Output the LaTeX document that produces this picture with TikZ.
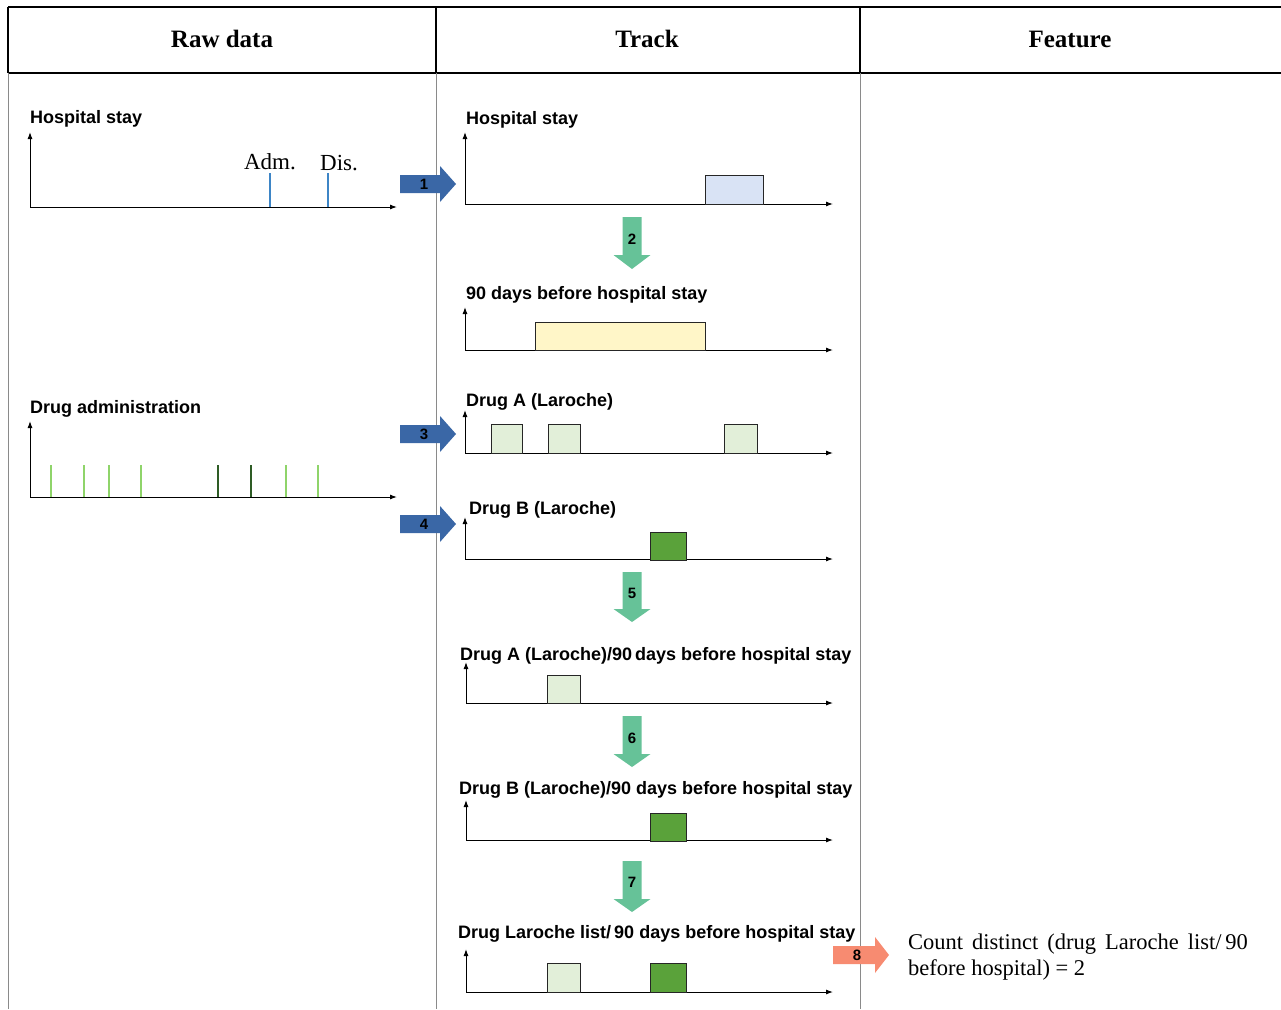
\documentclass[tikz,border=0pt]{standalone}
\usepackage{fontspec}
\setmainfont{Liberation Serif}
\setsansfont{Liberation Sans}
\usetikzlibrary{arrows.meta}
\definecolor{blueA}{HTML}{3A67A6}
\definecolor{greenA}{HTML}{66C298}
\definecolor{salmonA}{HTML}{F78B71}
\definecolor{tickBlue}{HTML}{3D85C6}
\definecolor{tickLight}{HTML}{8FD46A}
\definecolor{tickDark}{HTML}{2E5C25}
\definecolor{boxBlue}{HTML}{D9E3F5}
\definecolor{boxYellow}{HTML}{FFF6C8}
\definecolor{boxLight}{HTML}{E2EFD9}
\definecolor{boxDark}{HTML}{5AA23A}
\definecolor{rule}{HTML}{8A8A8A}
\tikzset{
  hdr/.style={font=\fontsize{25}{29}\selectfont\bfseries},
  lbl/.style={font=\sffamily\bfseries\fontsize{18}{21}\selectfont, anchor=west, inner sep=0pt},
  axis/.style={line width=1pt, -{Latex[length=7pt,width=5pt]}},
  tickb/.style={tickBlue, line width=2.6pt},
  tickl/.style={tickLight, line width=2.6pt},
  tickd/.style={tickDark, line width=2.6pt},
  evbox/.style={draw=black!85, line width=1pt},
  numlbl/.style={font=\sffamily\bfseries\fontsize{15}{17}\selectfont, inner sep=0pt},
}
% right block arrow: #1 tail x, #2 head x, #3 tip x, #4 center y, #5 colour
\newcommand{\blkRight}[5]{\fill[#5] (#1,#4-9) -- (#2,#4-9) -- (#2,#4-18) -- (#3,#4) -- (#2,#4+18) -- (#2,#4+9) -- (#1,#4+9) -- cycle;}
% down block arrow: #1 top y, #2 head y, #3 tip y, #4 center x
\newcommand{\blkDown}[4]{\fill[greenA] (#4-9.5,#1) -- (#4+9.5,#1) -- (#4+9.5,#2) -- (#4+18.5,#2) -- (#4,#3) -- (#4-18.5,#2) -- (#4-9.5,#2) -- cycle;}
\newcommand{\wideSp}{\spaceskip=0.4em\relax}
\begin{document}
\begin{tikzpicture}[x=1pt,y=-1pt]
\useasboundingbox (0,0) rectangle (1281,1009);
% table
\draw[line width=1.4pt] (8,7) -- (1281,7);
\draw[line width=1.4pt] (8,73) -- (1281,73);
\draw[line width=1.4pt] (8,7) -- (8,73);
\draw[line width=1.4pt] (436,7) -- (436,73);
\draw[line width=1.4pt] (860,7) -- (860,73);
\draw[rule, line width=0.8pt] (8,73) -- (8,1009);
\draw[rule, line width=0.8pt] (436,73) -- (436,1009);
\draw[rule, line width=0.8pt] (860,73) -- (860,1009);
\node[hdr] (h1) at (222,39) {Raw data};
\node[hdr] (h2) at (647,39) {Track};
\node[hdr] (h3) at (1070,39) {Feature};

% ---- Raw data: hospital stay
\node[lbl] (rhs) at (30,119) {Hospital stay};
\coordinate (o1) at (30,207);
\draw[axis] (o1) -- (30,132);
\draw[axis] (o1) -- (397,207);
\draw[tickb] (270,173) -- (270,207);
\draw[tickb] (328,173) -- (328,207);
\node[font=\fontsize{23}{26}\selectfont] (adm) at (270,162) {Adm.};
\node[font=\fontsize{23}{26}\selectfont] (dis) at (339,163) {Dis.};

% ---- Raw data: drug administration
\node[lbl] (rda) at (30,409) {Drug administration};
\coordinate (o2) at (30,497);
\draw[axis] (o2) -- (30,421);
\draw[axis] (o2) -- (397,497);
\foreach \x in {51,84,109,141,286,318} \draw[tickl] (\x,465) -- (\x,497);
\foreach \x in {218,251} \draw[tickd] (\x,465) -- (\x,497);

% ---- blue arrows
\blkRight{400}{440}{456}{184}{blueA}
\node[numlbl] (n1) at (424,184) {1};
\blkRight{400}{440}{456}{434}{blueA}
\node[numlbl] (n3) at (424,434) {3};
\blkRight{400}{440}{456}{524}{blueA}
\node[numlbl] (n4) at (424,524) {4};

% ---- Track: hospital stay
\node[lbl] (ths) at (466,120) {Hospital stay};
\draw[axis] (465,204) -- (465,132);
\draw[axis] (465,204) -- (833,204);
\draw[evbox, fill=boxBlue] (705,175) rectangle (763,204);
\blkDown{217}{255}{269}{632}
\node[numlbl] (n2) at (632,239) {2};

% ---- 90 days before
\node[lbl] (t90) at (466,295) {90 days before hospital stay};
\draw[axis] (465,350) -- (465,307);
\draw[axis] (465,350) -- (833,350);
\draw[evbox, fill=boxYellow] (535,322) rectangle (705,350);

% ---- Drug A
\node[lbl] (tda) at (466,402) {Drug A (Laroche)};
\draw[axis] (465,453) -- (465,410);
\draw[axis] (465,453) -- (833,453);
\draw[evbox, fill=boxLight] (491,424) rectangle (522,453);
\draw[evbox, fill=boxLight] (548,424) rectangle (580,453);
\draw[evbox, fill=boxLight] (724,424) rectangle (757,453);

% ---- Drug B
\node[lbl] (tdb) at (469,510) {Drug B (Laroche)};
\draw[axis] (465,559) -- (465,517);
\draw[axis] (465,559) -- (833,559);
\draw[evbox, fill=boxDark] (650,532) rectangle (686,560);
\blkDown{572}{609}{622}{632}
\node[numlbl] (n5) at (632,593) {5};

% ---- Drug A / 90 days
\node[lbl] (tda90) at (460,656) {Drug A (Laroche)/90\,days before hospital stay};
\draw[axis] (466,703) -- (466,662);
\draw[axis] (466,703) -- (833,703);
\draw[evbox, fill=boxLight] (547,675) rectangle (580,703);
\blkDown{716}{754}{767}{632}
\node[numlbl] (n6) at (632,738) {6};

% ---- Drug B / 90 days
\node[lbl] (tdb90) at (459,790) {Drug B (Laroche)/90 days before hospital stay};
\draw[axis] (466,840) -- (466,800);
\draw[axis] (466,840) -- (833,840);
\draw[evbox, fill=boxDark] (650,813) rectangle (686,841);
\blkDown{861}{899}{912}{632}
\node[numlbl] (n7) at (632,882) {7};

% ---- Drug Laroche list / 90 days
\node[lbl] (tdl) at (458,934) {Drug Laroche list/\,90 days before hospital stay};
\draw[axis] (466,992) -- (466,949);
\draw[axis] (466,992) -- (833,992);
\draw[evbox, fill=boxLight] (547,963) rectangle (580,992);
\draw[evbox, fill=boxDark] (650,963) rectangle (686,992);

% ---- arrow 8 and feature
\blkRight{833}{875}{889}{955}{salmonA}
\node[numlbl] (n8) at (857,955) {8};
\node[anchor=north west, inner sep=0pt, align=left, font=\fontsize{22.5}{26}\selectfont] (feat) at (908,934)
  {\wideSp Count distinct (drug Laroche list/\,90\\before hospital) = 2};
\end{tikzpicture}
\end{document}
